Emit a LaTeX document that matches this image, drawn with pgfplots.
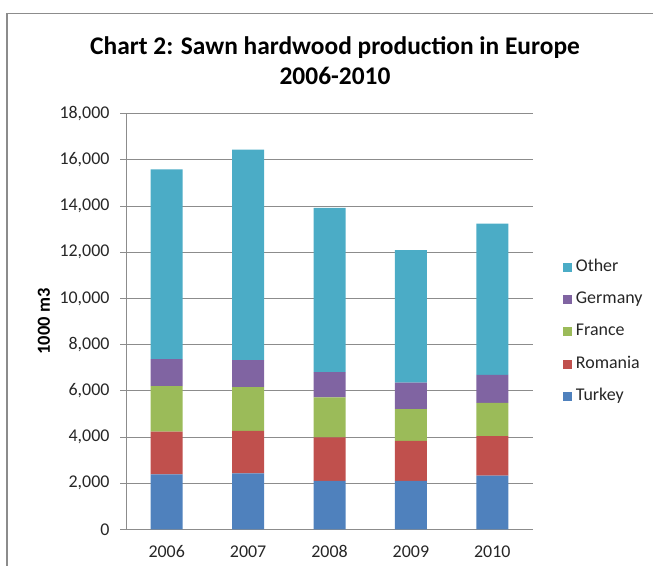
\documentclass[border=0pt]{standalone}
\usepackage{fontspec}
\setmainfont{Carlito}
\usepackage{pgfplots}
\pgfplotsset{compat=1.18}
\definecolor{cTurkey}{HTML}{4F81BD}
\definecolor{cRomania}{HTML}{C0504D}
\definecolor{cFrance}{HTML}{9BBB59}
\definecolor{cGermany}{HTML}{8064A2}
\definecolor{cOther}{HTML}{4BACC6}
\definecolor{frameg}{HTML}{8C8C8C}
\definecolor{gridg}{HTML}{8C8C8C}
\begin{document}
\begin{tikzpicture}[x=1bp,y=1bp]
\useasboundingbox (0,0) rectangle (653,566);
\draw[color=frameg, line width=1.6bp] (7,0) -- (7,552.5) -- (653,552.5);
\node[font=\bfseries\fontsize{25.5}{30}\selectfont, align=center] at (335,505) {Chart 2: Sawn hardwood production in Europe\\2006-2010};
\begin{axis}[
  at={(126bp,36.5bp)}, anchor=south west,
  scale only axis, width=407bp, height=416bp,
  xmin=-0.5, xmax=4.5, ymin=0, ymax=18000,
  ybar stacked, bar width=32bp,
  xtick={0,1,2,3,4},
  xticklabels={2006,2007,2008,2009,2010},
  extra x ticks={-0.5,0.5,1.5,2.5,3.5,4.5},
  extra x tick labels={},
  extra x tick style={major tick length=6bp, tick style={color=gridg, line width=0.8bp}},
  ytick={0,2000,...,18000},
  scaled y ticks=false,
  yticklabel={\pgfmathprintnumber[fixed,precision=0,1000 sep={,}]{\tick}},
  ymajorgrids,
  grid style={color=gridg, line width=0.8bp},
  axis x line*=bottom, axis y line*=left,
  axis line style={color=gridg, line width=0.8bp, -},
  tick align=outside,
  major tick length=6bp,
  tick style={color=gridg, line width=0.8bp},
  x tick style={draw=none},
  /pgf/number format/.cd, 1000 sep={,}, assume math mode=true,
  /pgfplots/.cd,
  ticklabel style={font=\fontsize{18}{21}\selectfont, color=black!85},
  yticklabel style={xshift=-7bp},
  xticklabel style={yshift=-6bp, text height=12bp, text depth=0bp, anchor=north},
  ylabel={1000 m3},
  ylabel style={at={(axis description cs:-0.2015,0.5)}, anchor=center, font=\bfseries\fontsize{18.5}{21}\selectfont},
  reverse legend,
  legend cell align=left,
  legend image code/.code={\fill[#1] (0bp,-4.5bp) rectangle (9bp,4.5bp);},
  legend style={at={(axis description cs:1.073,0.475)}, anchor=west, draw=none, fill=none,
    inner sep=0pt, row sep=12.4bp,
    font=\fontsize{18}{21}\selectfont, text=black!85,
    nodes={text height=12bp, text depth=4bp, inner sep=2bp},
    /tikz/every odd column/.append style={column sep=2bp}},
]
\addplot[fill=cTurkey, draw=none] coordinates {(0,2390) (1,2430) (2,2100) (3,2100) (4,2330)};
\addlegendentry{Turkey}
\addplot[fill=cRomania, draw=none] coordinates {(0,1840) (1,1840) (2,1890) (3,1730) (4,1710)};
\addlegendentry{Romania}
\addplot[fill=cFrance, draw=none] coordinates {(0,1970) (1,1890) (2,1730) (3,1380) (4,1440)};
\addlegendentry{France}
\addplot[fill=cGermany, draw=none] coordinates {(0,1170) (1,1170) (2,1090) (3,1140) (4,1210)};
\addlegendentry{Germany}
\addplot[fill=cOther, draw=none] coordinates {(0,8210) (1,9110) (2,7110) (3,5740) (4,6550)};
\addlegendentry{Other}
\end{axis}
\end{tikzpicture}
\end{document}
